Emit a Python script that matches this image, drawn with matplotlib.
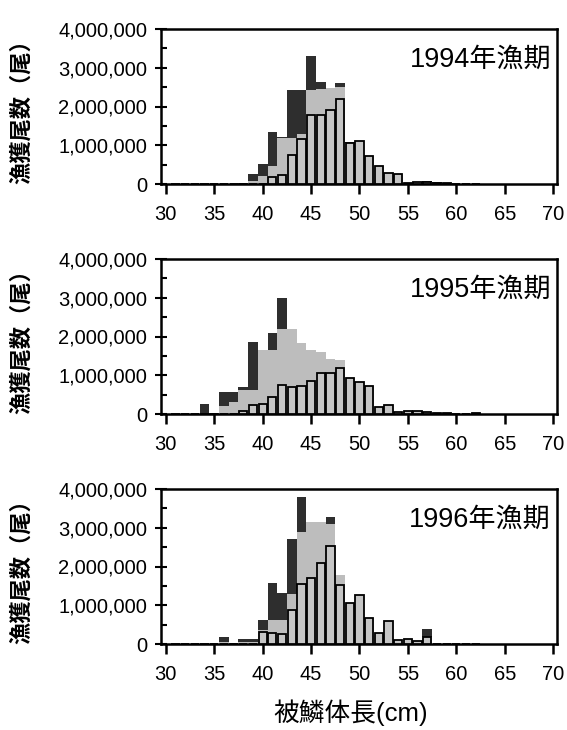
import matplotlib
matplotlib.use("Agg")
import matplotlib.pyplot as plt
from matplotlib.ticker import MultipleLocator, FuncFormatter
import numpy as np

plt.rcParams['font.family'] = ['Liberation Sans', 'Noto Sans CJK JP', 'DejaVu Sans']

# body length bins (cm, bin centres)
lengths = list(range(31, 63))

# catch numbers in millions of fish
dark1 = [0,0,0,0,0,0,0,0.03,0.25,0.51,1.35,1.22,2.42,2.42,3.30,2.64,2.47,2.60,1.09,1.12,0.72,0.47,0.29,0.25,0.03,0.06,0.09,0.05,0.03,0.01,0,0]
light1 = [0,0,0,0,0,0,0,0.01,0.08,0.20,0.47,1.20,1.19,1.30,2.42,2.45,2.47,2.50,1.07,1.12,0.72,0.47,0.29,0.25,0.02,0.04,0.06,0.03,0.02,0,0,0]
out1 = [0,0,0,0,0,0,0,0,0,0,0.19,0.22,0.75,1.15,1.78,1.78,1.91,2.20,1.07,1.12,0.72,0.47,0.29,0.25,0.02,0.04,0.06,0.03,0.02,0,0,0]

dark2 = [0.01,0.01,0.01,0.26,0.02,0.58,0.58,0.70,1.87,1.64,2.10,3.00,2.20,1.83,1.64,1.60,1.41,1.40,0.94,0.82,0.73,0.17,0.22,0.05,0.09,0.07,0.05,0.03,0.02,0.01,0.01,0.02]
light2 = [0,0,0,0,0,0.20,0.30,0.62,0.62,1.64,1.65,2.20,2.20,1.83,1.64,1.60,1.41,1.40,0.94,0.82,0.73,0.17,0.22,0.05,0.09,0.07,0.05,0.03,0.02,0.01,0.01,0.02]
out2 = [0,0,0,0,0,0,0,0.08,0.23,0.26,0.43,0.75,0.69,0.73,0.86,1.05,1.05,1.18,0.94,0.82,0.73,0.17,0.22,0.05,0.09,0.07,0.05,0.03,0.02,0.01,0.01,0.02]

dark3 = [0.01,0.01,0.01,0,0.01,0.17,0.02,0.12,0.12,0.62,1.57,1.31,2.70,3.79,3.14,3.14,3.29,1.78,1.07,1.27,0.68,0.29,0.60,0.10,0.13,0.07,0.38,0,0,0,0,0]
light3 = [0,0,0,0,0,0.05,0,0.05,0.05,0.35,0.62,0.62,1.29,2.90,3.14,3.14,3.10,1.78,1.07,1.27,0.68,0.29,0.60,0.10,0.13,0.07,0.17,0,0,0,0,0]
out3 = [0,0,0,0,0,0,0,0,0,0.30,0.29,0.26,0.88,1.55,1.70,2.09,2.52,1.53,1.07,1.27,0.68,0.29,0.60,0.10,0.13,0.07,0.17,0,0,0,0,0]

seasons = ['1994年漁期', '1995年漁期', '1996年漁期']
x_ticks = [30, 35, 40, 45, 50, 55, 60, 65, 70]
y_ticks = [0, 1000000, 2000000, 3000000, 4000000]
ylabel = '漁獲尾数（尾）'
xlabel = '被鱗体長(cm)'

panels = [(dark1, light1, out1), (dark2, light2, out2), (dark3, light3, out3)]

W, H = 567, 730
fig = plt.figure(figsize=(W/100, H/100), dpi=100)

ax_px = [(29, 184), (259, 414), (489, 644)]
left_px, right_px = 161, 557

for i, ((d, l, o), (top, bot)) in enumerate(zip(panels, ax_px)):
    ax = fig.add_axes([left_px/W, 1 - bot/H, (right_px-left_px)/W, (bot-top)/H])
    x = np.array(lengths)
    ax.bar(x, np.array(d)*1e6, width=1.0, color='#2e2e2e', linewidth=0, zorder=1)
    ax.bar(x, np.array(l)*1e6, width=1.0, color='#bdbdbd', linewidth=0, zorder=2)
    ax.bar(x, np.array(o)*1e6, width=0.85, color='#c6c6c6', edgecolor='black', linewidth=1.3, zorder=3)
    ax.set_xlim(29.5, 70.4)
    ax.set_ylim(0, 4000000)
    ax.set_xticks(x_ticks)
    ax.set_yticks(y_ticks)
    ax.yaxis.set_minor_locator(MultipleLocator(500000))
    ax.yaxis.set_major_formatter(FuncFormatter(lambda v, p: f'{int(v):,}'))
    ax.tick_params(axis='x', direction='out', length=7, width=1.8, labelsize=14.5, pad=8)
    ax.tick_params(axis='y', which='major', direction='inout', length=8, width=1.5, labelsize=14.5, pad=6)
    ax.tick_params(axis='y', which='minor', direction='in', length=4, width=1.5)
    for s in ax.spines.values():
        s.set_linewidth(1.8)
    ax.text(0.985, 0.885, seasons[i], transform=ax.transAxes, ha='right', va='top', fontsize=19.5)
    fig.text(22/W, 1 - (top+bot)/2/H, ylabel, rotation=90, ha='center', va='center', fontsize=16, fontweight='bold')

fig.text(351/W, 1 - 713/H, xlabel, ha='center', va='center', fontsize=18.5)

fig.savefig('out.png', dpi=100)
